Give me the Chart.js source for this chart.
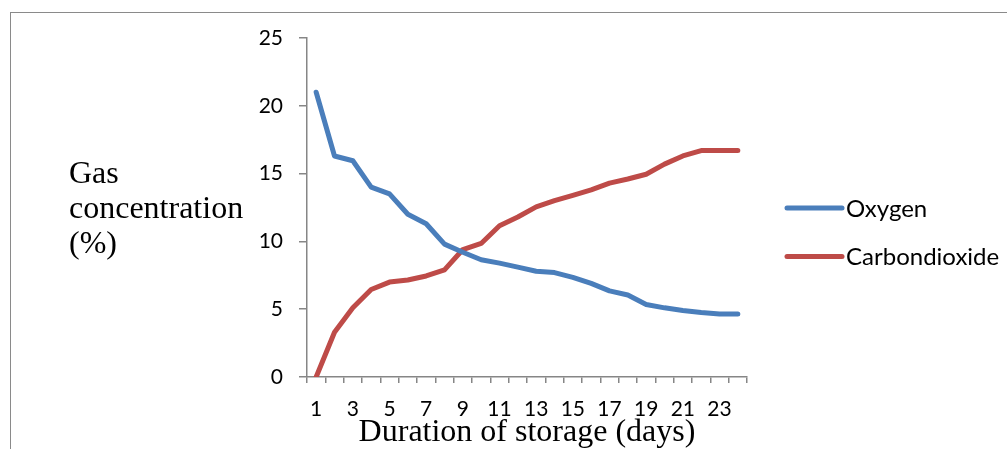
<!DOCTYPE html>
<html>
<head>
<meta charset="utf-8">
<script src="https://cdn.jsdelivr.net/npm/chart.js@4.4.0/dist/chart.umd.min.js"></script>
<style>
  html, body { margin: 0; padding: 0; background: #fff; }
  #wrap { position: relative; width: 1007px; height: 449px; overflow: hidden; }
  #frame {
    position: absolute; left: 10px; top: 12px; width: 1100px; height: 600px;
    border-top: 1.5px solid #8a8a8a; border-left: 1.5px solid #8a8a8a;
  }
  canvas { position: absolute; left: 0; top: 0; }
</style>
</head>
<body>
<div id="wrap">
  <div id="frame"></div>
  <canvas id="gasChart" width="1007" height="449"></canvas>
</div>
<script>
// Storage days (x axis categories)
const days = ['1', '2', '3', '4', '5', '6', '7', '8', '9', '10', '11', '12',
  '13', '14', '15', '16', '17', '18', '19', '20', '21', '22', '23', '24'];

// Gas concentration (%)
const oxygen = [21.0, 16.3, 15.95, 14.0, 13.5, 12.0, 11.3, 9.8, 9.2, 8.65, 8.4, 8.1,
  7.8, 7.7, 7.35, 6.9, 6.35, 6.05, 5.35, 5.1, 4.9, 4.75, 4.65, 4.65];
const carbonDioxide = [0.0, 3.3, 5.1, 6.45, 7.0, 7.15, 7.45, 7.9, 9.4, 9.85, 11.15, 11.8,
  12.55, 13.0, 13.4, 13.8, 14.3, 14.6, 14.95, 15.7, 16.3, 16.7, 16.7, 16.7];

const seriesNames = ['Oxygen', 'Carbondioxide'];
const yTicks = [0, 5, 10, 15, 20, 25];

const axisColor = '#868686';
const tickFont = { family: 'Lato', size: 21 };

// Horizontal titles and the legend are drawn by hand, as in the original figure
const annotations = {
  id: 'annotations',
  afterDraw(chart) {
    const ctx = chart.ctx;
    ctx.save();
    ctx.fillStyle = '#000';
    ctx.font = '32px "Liberation Serif"';
    ctx.textAlign = 'left';
    ctx.textBaseline = 'alphabetic';
    ctx.fillText('Gas', 69, 183);
    ctx.fillText('concentration', 69, 218);
    ctx.fillText('(%)', 69, 253);

    ctx.textAlign = 'center';
    ctx.fillText('Duration of storage (days)', 527, 441);

    // legend
    ctx.textAlign = 'left';
    ctx.font = '24px Lato';
    const rows = [208, 256.5];
    chart.data.datasets.forEach((ds, i) => {
      const y = rows[i];
      ctx.strokeStyle = ds.borderColor;
      ctx.lineWidth = 5;
      ctx.lineCap = 'round';
      ctx.beginPath();
      ctx.moveTo(787, y);
      ctx.lineTo(842, y);
      ctx.stroke();
      ctx.fillStyle = '#000';
      ctx.fillText(ds.label, 846, y + 8.5);
    });
    ctx.restore();
  }
};

new Chart(document.getElementById('gasChart'), {
  type: 'line',
  data: {
    labels: days,
    datasets: [
      {
        label: seriesNames[0],
        data: oxygen,
        borderColor: '#4A7EBB',
        borderWidth: 5,
        pointRadius: 0,
        tension: 0,
        borderCapStyle: 'round',
        borderJoinStyle: 'round'
      },
      {
        label: seriesNames[1],
        data: carbonDioxide,
        borderColor: '#BE4B48',
        borderWidth: 5,
        pointRadius: 0,
        tension: 0,
        borderCapStyle: 'round',
        borderJoinStyle: 'round'
      }
    ]
  },
  options: {
    responsive: false,
    animation: false,
    devicePixelRatio: 1,
    layout: { padding: { top: 38, right: 260, bottom: 0, left: 0 } },
    plugins: {
      legend: { display: false },
      tooltip: { enabled: false }
    },
    scales: {
      x: {
        type: 'category',
        offset: true,
        grid: {
          offset: true,
          drawOnChartArea: false,
          drawTicks: true,
          tickLength: 6,
          color: axisColor,
          lineWidth: 1.5
        },
        border: { display: true, color: axisColor, width: 1.5 },
        ticks: {
          autoSkip: false,
          maxRotation: 0,
          padding: 14,
          color: '#000',
          font: tickFont,
          callback: function(value, index) {
            return index % 2 === 0 ? days[index] : '';
          }
        },
        afterFit: function(scale) { scale.height = 72; }
      },
      y: {
        min: 0,
        max: 25,
        afterBuildTicks: function(scale) {
          scale.ticks = yTicks.map(v => ({ value: v }));
        },
        grid: {
          drawOnChartArea: false,
          drawTicks: true,
          tickLength: 8,
          color: axisColor,
          lineWidth: 1.5
        },
        border: { display: true, color: axisColor, width: 1.5 },
        ticks: {
          padding: 16,
          color: '#000',
          font: tickFont
        },
        afterFit: function(scale) { scale.width = 307; }
      }
    }
  },
  plugins: [annotations]
});
</script>
</body>
</html>
